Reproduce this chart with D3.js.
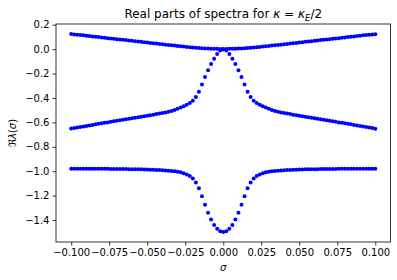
<!DOCTYPE html>
<html>
<head>
<meta charset="utf-8">
<script src="https://cdn.jsdelivr.net/npm/d3@7"></script>
<style>
  body { margin: 0; background: #fff; }
  svg text { font-family: "DejaVu Sans", sans-serif; fill: #000; }
</style>
</head>
<body>
<div id="chart"></div>
<script>
// sample points in sigma
const sigma = [
  -0.100, -0.098, -0.096, -0.094, -0.092, -0.090, -0.088, -0.086, -0.084, -0.082,
  -0.080, -0.078, -0.076, -0.074, -0.072, -0.070, -0.068, -0.066, -0.064, -0.062,
  -0.060, -0.058, -0.056, -0.054, -0.052, -0.050, -0.048, -0.046, -0.044, -0.042,
  -0.040, -0.038, -0.036, -0.034, -0.032, -0.030, -0.028, -0.026, -0.024, -0.022,
  -0.020, -0.018, -0.016, -0.014, -0.012, -0.010, -0.008, -0.006, -0.004, -0.002,
  0.000,
  0.002, 0.004, 0.006, 0.008, 0.010, 0.012, 0.014, 0.016, 0.018, 0.020,
  0.022, 0.024, 0.026, 0.028, 0.030, 0.032, 0.034, 0.036, 0.038, 0.040,
  0.042, 0.044, 0.046, 0.048, 0.050, 0.052, 0.054, 0.056, 0.058, 0.060,
  0.062, 0.064, 0.066, 0.068, 0.070, 0.072, 0.074, 0.076, 0.078, 0.080,
  0.082, 0.084, 0.086, 0.088, 0.090, 0.092, 0.094, 0.096, 0.098, 0.100
];

// upper branch
const branchTop = [
  0.124, 0.121, 0.118, 0.116, 0.113, 0.110, 0.107, 0.104, 0.102, 0.099,
  0.096, 0.093, 0.090, 0.088, 0.085, 0.082, 0.079, 0.076, 0.074, 0.071,
  0.068, 0.065, 0.062, 0.060, 0.057, 0.054, 0.051, 0.048, 0.046, 0.043,
  0.040, 0.037, 0.034, 0.032, 0.029, 0.026, 0.023, 0.021, 0.018, 0.016,
  0.013, 0.011, 0.009, 0.007, 0.006, 0.005, 0.004, 0.003, 0.003, 0.002,
  0.002,
  0.002, 0.003, 0.003, 0.004, 0.005, 0.006, 0.007, 0.009, 0.011, 0.013,
  0.016, 0.018, 0.021, 0.023, 0.026, 0.029, 0.032, 0.034, 0.037, 0.040,
  0.043, 0.046, 0.048, 0.051, 0.054, 0.057, 0.060, 0.062, 0.065, 0.068,
  0.071, 0.074, 0.076, 0.079, 0.082, 0.085, 0.088, 0.090, 0.093, 0.096,
  0.099, 0.102, 0.104, 0.107, 0.110, 0.113, 0.116, 0.118, 0.121, 0.123
];

// middle branch (peak at sigma = 0)
const branchMid = [
  -0.650, -0.646, -0.642, -0.637, -0.633, -0.629, -0.625, -0.621, -0.616, -0.612,
  -0.608, -0.604, -0.600, -0.595, -0.591, -0.587, -0.583, -0.579, -0.574, -0.570,
  -0.566, -0.562, -0.558, -0.553, -0.549, -0.545, -0.541, -0.537, -0.532, -0.528,
  -0.524, -0.520, -0.513, -0.506, -0.498, -0.489, -0.479, -0.468, -0.456, -0.441,
  -0.422, -0.393, -0.350, -0.290, -0.228, -0.172, -0.122, -0.078, -0.040, -0.012,
  -0.002,
  -0.012, -0.040, -0.078, -0.122, -0.172, -0.228, -0.290, -0.350, -0.393, -0.422,
  -0.441, -0.456, -0.468, -0.479, -0.489, -0.498, -0.506, -0.513, -0.520, -0.524,
  -0.528, -0.532, -0.537, -0.541, -0.545, -0.549, -0.553, -0.558, -0.562, -0.566,
  -0.570, -0.574, -0.579, -0.583, -0.587, -0.591, -0.595, -0.600, -0.604, -0.608,
  -0.612, -0.616, -0.621, -0.625, -0.629, -0.633, -0.637, -0.642, -0.646, -0.652
];

// lower branch (dip at sigma = 0)
const branchLow = [
  -0.980, -0.980, -0.980, -0.980, -0.980, -0.980, -0.980, -0.980, -0.980, -0.980,
  -0.980, -0.980, -0.980, -0.981, -0.981, -0.981, -0.981, -0.982, -0.982, -0.983,
  -0.983, -0.984, -0.984, -0.985, -0.986, -0.987, -0.988, -0.989, -0.990, -0.991,
  -0.993, -0.994, -0.996, -0.998, -1.001, -1.004, -1.009, -1.016, -1.026, -1.040,
  -1.060, -1.093, -1.140, -1.205, -1.275, -1.340, -1.395, -1.440, -1.472, -1.491,
  -1.498,
  -1.491, -1.472, -1.440, -1.395, -1.340, -1.275, -1.205, -1.140, -1.093, -1.060,
  -1.040, -1.026, -1.016, -1.009, -1.004, -1.001, -0.998, -0.996, -0.994, -0.993,
  -0.991, -0.990, -0.989, -0.988, -0.987, -0.986, -0.985, -0.984, -0.984, -0.983,
  -0.983, -0.982, -0.982, -0.981, -0.981, -0.981, -0.981, -0.980, -0.980, -0.980,
  -0.980, -0.980, -0.980, -0.980, -0.980, -0.980, -0.980, -0.980, -0.980, -0.980
];

const xTicks = [-0.1, -0.075, -0.05, -0.025, 0, 0.025, 0.05, 0.075, 0.1];
const yTicks = [0.2, 0.0, -0.2, -0.4, -0.6, -0.8, -1.0, -1.2, -1.4];

(() => {
    const W = 397, H = 280;
    const m = {left: 56, right: 390.5, top: 24, bottom: 242};

    const svg = d3.select('#chart')
        .append('svg')
        .attr('width', W)
        .attr('height', H);

    svg.append('rect').attr('width', W).attr('height', H).attr('fill', '#fff');

    const x = d3.scaleLinear().domain([-0.11, 0.11]).range([m.left, m.right]);
    const y = d3.scaleLinear().domain([-1.58, 0.206]).range([m.bottom, m.top]);

    const fmtMinus = s => s.replace('-', '\u2212');

    // points
    [branchTop, branchMid, branchLow].forEach(series => {
        svg.append('g')
            .selectAll('circle')
            .data(series.map((v, i) => [sigma[i], v]))
            .enter()
            .append('circle')
            .attr('cx', d => x(d[0]))
            .attr('cy', d => y(d[1]))
            .attr('r', 2)
            .attr('fill', '#0000ff');
    });

    // axes
    let xAxis = svg.append('g')
        .attr('transform', `translate(0,${m.bottom})`)
        .call(d3.axisBottom(x).tickValues(xTicks).tickSize(3.5).tickPadding(3)
            .tickFormat(d => fmtMinus(d3.format('.3f')(d))));

    let yAxis = svg.append('g')
        .attr('transform', `translate(${m.left},0)`)
        .call(d3.axisLeft(y).tickValues(yTicks).tickSize(3.5).tickPadding(3)
            .tickFormat(d => fmtMinus(d3.format('.1f')(d))));

    [xAxis, yAxis].forEach(a => {
        a.select('.domain').remove();
        a.selectAll('line').attr('stroke', '#000').attr('stroke-width', 0.8);
        a.selectAll('text').style('font-size', '10px').attr('fill', '#000')
            .style('font-family', '"DejaVu Sans", sans-serif');
    });

    // frame
    svg.append('rect')
        .attr('x', m.left).attr('y', m.top)
        .attr('width', m.right - m.left).attr('height', m.bottom - m.top)
        .attr('fill', 'none')
        .attr('stroke', '#000')
        .attr('stroke-width', 0.8);

    // title
    let title = svg.append('text')
        .attr('x', (m.left + m.right) / 2)
        .attr('y', 18)
        .attr('text-anchor', 'middle')
        .style('font-size', '12px');
    title.append('tspan').text('Real parts of spectra for ');
    title.append('tspan').style('font-style', 'italic').text('\u03ba');
    title.append('tspan').text(' = ');
    title.append('tspan').style('font-style', 'italic').text('\u03ba');
    title.append('tspan').style('font-style', 'italic').style('font-size', '8.5px').attr('dy', 2.5).text('E');
    title.append('tspan').attr('dy', -2.5).text('/2');

    // x label
    svg.append('text')
        .attr('x', (m.left + m.right) / 2)
        .attr('y', 271)
        .attr('text-anchor', 'middle')
        .style('font-size', '10px')
        .style('font-style', 'italic')
        .text('\u03c3');

    // y label
    let yl = svg.append('text')
        .attr('transform', `translate(16,${(m.top + m.bottom) / 2}) rotate(-90)`)
        .attr('text-anchor', 'middle')
        .style('font-size', '10px');
    yl.append('tspan').text('\u211c');
    yl.append('tspan').style('font-style', 'italic').text('\u03bb');
    yl.append('tspan').text('(');
    yl.append('tspan').style('font-style', 'italic').text('\u03c3');
    yl.append('tspan').text(')');
})();
</script>
</body>
</html>
